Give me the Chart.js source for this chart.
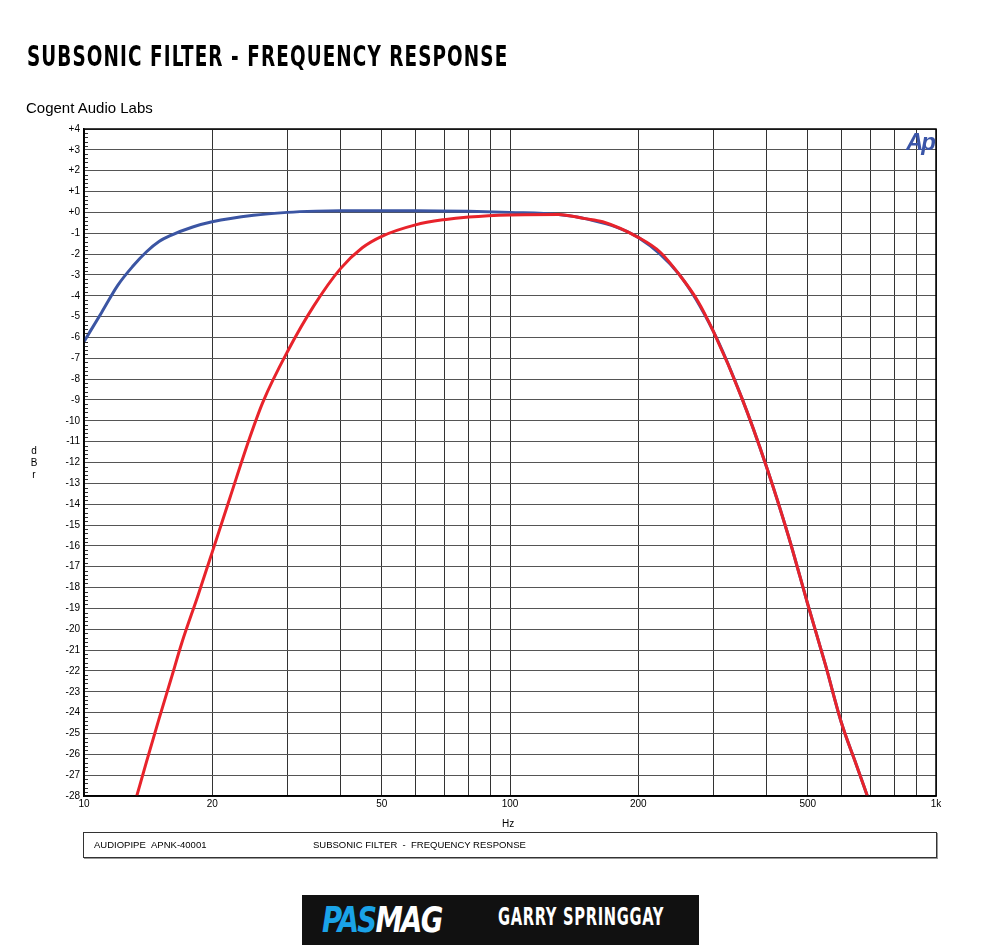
<!DOCTYPE html>
<html><head><meta charset="utf-8">
<script src="https://cdn.jsdelivr.net/npm/chart.js@4"></script>
<style>
body{margin:0;background:#fff;width:1000px;height:945px;position:relative;overflow:hidden;font-family:Arial,"Liberation Sans",sans-serif}
#wrap{position:absolute;left:0;top:0;width:1000px;height:945px}
.t{position:absolute;white-space:nowrap}
</style></head><body>
<div id="wrap"><canvas id="c" width="1000" height="945"></canvas></div>
<div class="t" style="left:27px;top:40px;font-family:'DejaVu Sans Condensed';font-weight:bold;font-size:28px;letter-spacing:1.5px;transform:scaleX(0.73);transform-origin:0 0">SUBSONIC FILTER - FREQUENCY RESPONSE</div>
<div class="t" style="left:26px;top:99px;font-size:15px">Cogent Audio Labs</div>
<div class="t" style="left:30px;top:445px;font-size:10px;line-height:12px;text-align:center;width:8px">d<br>B<br>r</div>
<div class="t" style="left:906px;top:128px;font-size:24px;font-weight:bold;font-style:italic;color:#3a55a8;letter-spacing:-2px">Ap</div>
<div class="t" style="left:502px;top:818px;font-size:10px">Hz</div>
<div style="position:absolute;left:83px;top:832px;width:852px;height:24px;border:1px solid #333;box-shadow:1px 1px 0 #999"></div>
<div class="t" style="left:94px;top:839px;font-size:9.5px">AUDIOPIPE &nbsp;APNK-40001</div>
<div class="t" style="left:313px;top:839px;font-size:9.5px">SUBSONIC FILTER &nbsp;- &nbsp;FREQUENCY RESPONSE</div>
<div style="position:absolute;left:302px;top:895px;width:397px;height:50px;background:#111"></div>
<div class="t" style="left:322px;top:899px;font-family:'DejaVu Sans Condensed';font-weight:bold;font-style:italic;font-size:36px;letter-spacing:-2px;transform:scaleX(0.85);transform-origin:0 0"><span style="color:#1aa3e8">PAS</span><span style="color:#fff">MAG</span></div>
<div class="t" style="left:498px;top:903px;font-family:'DejaVu Sans Condensed';font-weight:bold;font-size:24px;color:#fff;letter-spacing:1px;transform:scaleX(0.68);transform-origin:0 0">GARRY SPRINGGAY</div>
<script>
const blueFreq=[10,11,12,13,14,15,16,18,20,25,30,35,40,50,60,80,100,130,150,200,250,300,350,400,450,500,550,600,650,690];
const blueDb=[-6.2,-4.8,-3.5,-2.6,-1.9,-1.4,-1.1,-0.7,-0.45,-0.14,0.0,0.06,0.08,0.08,0.08,0.05,0.0,-0.1,-0.3,-1.2,-3.0,-5.7,-8.9,-12.2,-15.5,-18.8,-21.7,-24.5,-26.5,-28];
const redFreq=[13.3,14,15,16,17,18.5,20,22,24.5,26.3,30,34.6,40,45,50,60,70,80,100,130,150,165,200,225,250,275,300,350,400,450,500,550,600,650,690];
const redDb=[-28,-26.4,-24.3,-22.4,-20.6,-18.4,-16.3,-13.7,-10.8,-9.1,-6.7,-4.5,-2.7,-1.7,-1.15,-0.6,-0.35,-0.22,-0.12,-0.1,-0.3,-0.45,-1.2,-1.9,-3.0,-4.2,-5.7,-8.9,-12.2,-15.5,-18.8,-21.7,-24.5,-26.5,-28];
const xTicks=[10,20,30,40,50,60,70,80,90,100,200,300,400,500,600,700,800,900,1000];
const xLabels={10:'10',20:'20',50:'50',100:'100',200:'200',500:'500',1000:'1k'};
const toPts=(f,d)=>f.map((v,i)=>({x:v,y:d[i]}));
const minor={id:'minor',afterDraw(ch){const c=ch.ctx,y=ch.scales.y,l=ch.chartArea.left;c.save();c.strokeStyle='#333';c.lineWidth=1;
for(let v=-28;v<=4.001;v+=0.2){const p=Math.round(y.getPixelForValue(v))+0.5;const major=Math.abs(v-Math.round(v))<0.01;c.beginPath();c.moveTo(l,p);c.lineTo(l+(major?0:4),p);c.stroke();}
c.restore();}};
new Chart(document.getElementById('c'),{type:'line',
data:{datasets:[
{data:toPts(redFreq,redDb),borderColor:'#e8232b',borderWidth:3,pointRadius:0,cubicInterpolationMode:'monotone'},
{data:toPts(blueFreq,blueDb),borderColor:'#3b55a3',borderWidth:3,pointRadius:0,cubicInterpolationMode:'monotone'}
]},
options:{responsive:false,animation:false,events:[],
layout:{padding:{left:0,top:129,right:64,bottom:109}},
plugins:{legend:{display:false},tooltip:{enabled:false}},
scales:{
x:{type:'logarithmic',min:10,max:1000,afterFit(s){s.height=40},
afterBuildTicks(s){s.ticks=xTicks.map(v=>({value:v}))},
ticks:{autoSkip:false,maxRotation:0,color:'#000',font:{size:10},padding:2,callback:v=>xLabels[v]||''},
grid:{color:'#333',lineWidth:1,drawTicks:false},border:{color:'#000',width:1.5}},
y:{min:-28,max:4,afterFit(s){s.width=84},
ticks:{stepSize:1,color:'#000',font:{size:10},padding:4,callback:v=>v>=0?'+'+v:String(v)},
grid:{color:'#555',lineWidth:1,drawTicks:false},border:{color:'#000',width:1.5}}
}},plugins:[minor,{id:'frame',afterDraw(ch){const c=ch.ctx,a=ch.chartArea;c.save();c.strokeStyle='#000';c.lineWidth=1.5;c.strokeRect(a.left,a.top,a.right-a.left,a.bottom-a.top);c.restore();}}]});
</script></body></html>
